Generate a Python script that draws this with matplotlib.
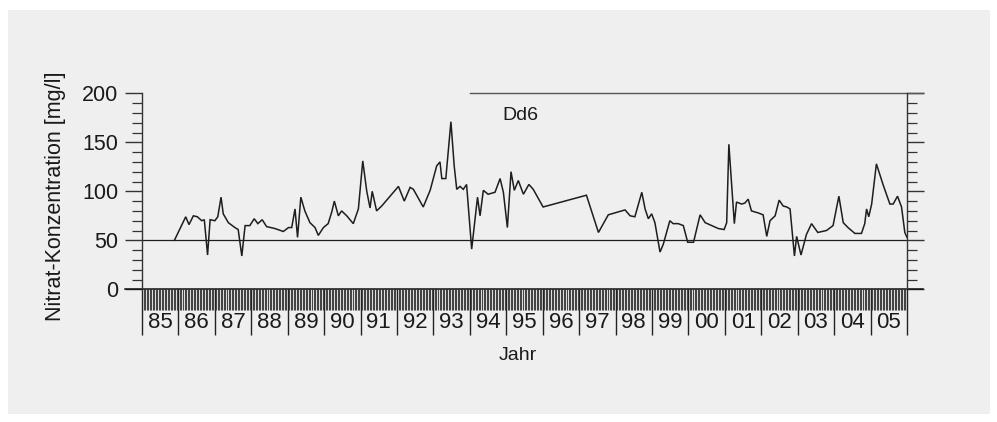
import matplotlib
matplotlib.use("Agg")
import matplotlib.pyplot as plt
import matplotlib.transforms as mtransforms
from matplotlib.patches import Rectangle
from matplotlib.ticker import MultipleLocator, FixedLocator
import numpy as np

plt.rcParams['font.family'] = ['Liberation Sans', 'DejaVu Sans']

# ---- data ----
years = [1985.89, 1986.20, 1986.29, 1986.41, 1986.52, 1986.64, 1986.71, 1986.80, 1986.87,
         1987.00, 1987.08, 1987.17, 1987.23, 1987.37, 1987.55, 1987.64, 1987.74, 1987.83,
         1987.96, 1988.08, 1988.18, 1988.30, 1988.42, 1988.65, 1988.88, 1989.02, 1989.11,
         1989.20, 1989.27, 1989.36, 1989.47, 1989.61, 1989.75, 1989.84, 1989.98, 1990.11,
         1990.21, 1990.28, 1990.39, 1990.48, 1990.62, 1990.80, 1990.94, 1991.06, 1991.17,
         1991.26, 1991.32, 1991.44, 1991.58, 1992.04, 1992.20, 1992.36, 1992.45, 1992.72,
         1992.91, 1993.09, 1993.18, 1993.23, 1993.34, 1993.48, 1993.57, 1993.64, 1993.73,
         1993.82, 1993.91, 1994.05, 1994.14, 1994.21, 1994.28, 1994.37, 1994.50, 1994.69,
         1994.83, 1994.92, 1995.03, 1995.13, 1995.22, 1995.33, 1995.47, 1995.62, 1995.74,
         1996.01, 1997.20, 1997.53, 1997.80, 1998.26, 1998.40, 1998.53, 1998.72, 1998.81,
         1998.90, 1998.99, 1999.08, 1999.22, 1999.31, 1999.49, 1999.58, 1999.72, 1999.86,
         1999.98, 2000.14, 2000.32, 2000.46, 2000.64, 2000.82, 2000.98, 2001.05, 2001.11,
         2001.26, 2001.32, 2001.46, 2001.55, 2001.64, 2001.73, 2001.91, 2002.05, 2002.15,
         2002.24, 2002.38, 2002.49, 2002.60, 2002.70, 2002.79, 2002.91, 2002.97, 2003.09,
         2003.24, 2003.38, 2003.55, 2003.79, 2003.97, 2004.13, 2004.25, 2004.38, 2004.57,
         2004.75, 2004.84, 2004.89, 2004.95, 2005.03, 2005.16, 2005.35, 2005.53, 2005.62,
         2005.74, 2005.85, 2005.94, 2006.00]
nitrate = [50, 74, 66, 75, 74, 70, 71, 35, 71,
           70, 74, 94, 77, 68, 63, 61, 34, 65,
           65, 72, 67, 71, 64, 62, 59, 63, 63,
           82, 53, 94, 80, 68, 63, 55, 63, 67,
           79, 90, 75, 80, 75, 67, 82, 131, 100,
           83, 100, 80, 85, 105, 90, 104, 102, 84,
           101, 126, 130, 113, 113, 171, 126, 102, 105,
           102, 107, 41, 71, 94, 75, 101, 97, 99,
           113, 99, 63, 120, 101, 111, 97, 107, 102,
           84, 96, 58, 76, 81, 75, 74, 99, 82,
           72, 77, 68, 38, 46, 70, 67, 67, 65,
           48, 48, 76, 68, 65, 62, 61, 68, 148,
           67, 89, 87, 88, 92, 80, 78, 76, 54,
           70, 75, 91, 85, 84, 82, 34, 54, 35,
           56, 67, 58, 60, 65, 95, 68, 63, 57,
           57, 67, 82, 74, 87, 128, 106, 87, 87,
           95, 84, 58, 53]
year_labels = ['85', '86', '87', '88', '89', '90', '91', '92', '93', '94', '95',
               '96', '97', '98', '99', '00', '01', '02', '03', '04', '05']
year_start = 1985
limit_value = 50
station = 'Dd6'

# ---- figure ----
W, H = 997, 422
fig = plt.figure(figsize=(W / 100, H / 100), dpi=100, facecolor='white')
bg = Rectangle((8 / W, 8 / H), (990 - 8) / W, (412 - 8) / H,
               transform=fig.transFigure, facecolor='#efefef',
               edgecolor='none', zorder=-10)
fig.patches.append(bg)

ax = fig.add_axes([142 / W, (H - 289.3) / H, (907 - 142) / W, 196 / H])
ax.set_facecolor('none')
ax.set_zorder(5)

x0 = year_start
x1 = year_start + len(year_labels)
ax.set_xlim(x0, x1)
ax.set_ylim(0, 200)

ax.plot(years, nitrate, color='#1e1e1e', lw=1.1, solid_joinstyle='miter')
ax.axhline(limit_value, color='#1e1e1e', lw=0.9)

# spines
for s in ['top', 'bottom']:
    ax.spines[s].set_visible(False)
ax.spines['left'].set_linewidth(1.0)
ax.spines['right'].set_linewidth(1.0)
ax.spines['left'].set_color('#333333')
ax.spines['right'].set_color('#333333')

# extended bottom axis line and partial top line
ax.plot([-17 / 765, 1 + 16 / 765], [0, 0], transform=ax.transAxes,
        color='#111111', lw=1.1, clip_on=False)
ax.plot([(470 - 142) / 765, 1 + 16 / 765], [1, 1], transform=ax.transAxes,
        color='#555555', lw=1.0, clip_on=False)

# y ticks
ax.yaxis.set_major_locator(MultipleLocator(50))
ax.yaxis.set_minor_locator(MultipleLocator(10))
ax.tick_params(axis='y', which='both', direction='out', left=True, right=True,
               color='#333333', labelsize=15.5, pad=5, labelcolor='#1a1a1a')
ax.tick_params(axis='y', which='major', length=12, width=1.0)
ax.tick_params(axis='y', which='minor', length=7, width=0.9)

# x ticks: year separators (major) and dense ticks (minor)
ax.xaxis.set_major_locator(FixedLocator(np.arange(x0, x1 + 1)))
ax.xaxis.set_minor_locator(MultipleLocator(1 / 24))
ax.tick_params(axis='x', which='major', direction='out', length=33, width=1.0,
               color='#222222', labelbottom=False)
ax.tick_params(axis='x', which='minor', direction='out', length=15, width=0.8,
               color='#444444')

trans = mtransforms.blended_transform_factory(ax.transData, ax.transAxes)
for i, lab in enumerate(year_labels):
    ax.text(x0 + i + 0.5, -0.168, lab, transform=trans, ha='center', va='center',
            fontsize=16, color='#1a1a1a')

fig.text(518 / W, 1 - 355 / H, 'Jahr', ha='center', va='center', fontsize=14,
         color='#1a1a1a')
fig.text(56 / W, 1 - 196 / H, 'Nitrat-Konzentration [mg/l]', rotation=90,
         ha='center', va='center', fontsize=15.5, color='#1a1a1a')
fig.text(520 / W, 1 - 116 / H, station, ha='center', va='center', fontsize=14,
         color='#1a1a1a')

fig.savefig('out.png', dpi=100, facecolor=fig.get_facecolor())
